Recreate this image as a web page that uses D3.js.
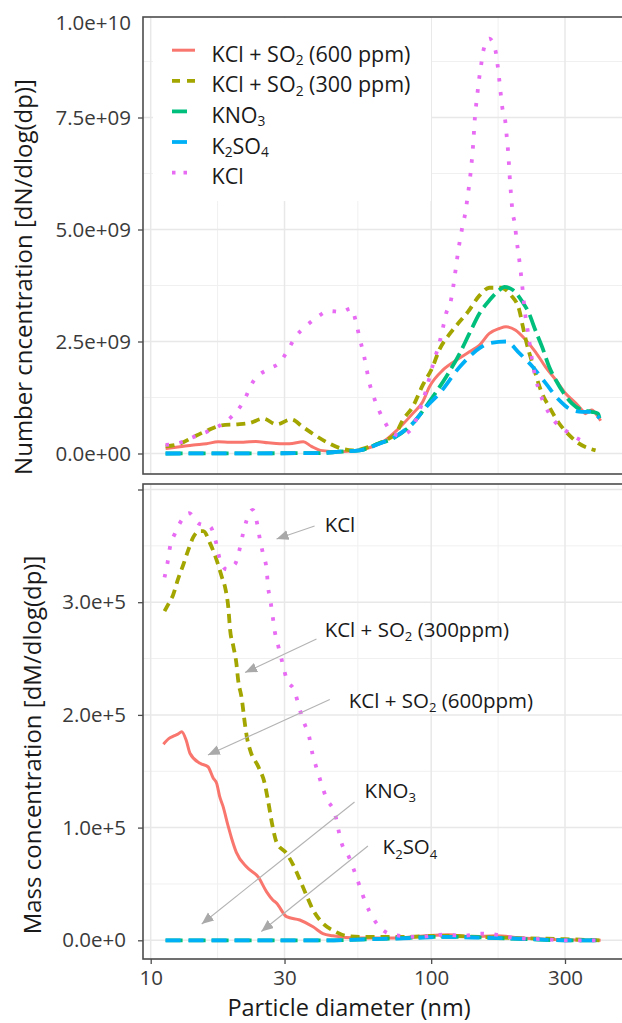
<!DOCTYPE html>
<html><head><meta charset="utf-8">
<script src="https://cdn.jsdelivr.net/npm/d3@7"></script>
<style>
body{margin:0;background:#fff}
svg{display:block}
text{font-family:"Open Sans",sans-serif}
</style>
</head><body>
<svg id="chart" width="622" height="1023"></svg>
<script>
// ---------------- DATA ----------------
const seriesNames = ["KCl + SO_2 (600 ppm)", "KCl + SO_2 (300 ppm)", "KNO_3", "K_2SO_4", "KCl"];
const seriesColors = ["#F8766D", "#A3A500", "#00BF7D", "#00B0F6", "#E76BF3"];

// Number concentration [dN/dlog(dp)] vs particle diameter (nm)
const numSO2_600 = [[11.3,0.11e9],[12.7,0.15e9],[14.2,0.19e9],[15.8,0.22e9],[17.4,0.26e9],[19.2,0.25e9],[21.4,0.25e9],[23.7,0.27e9],[26.2,0.24e9],[28.9,0.22e9],[31.2,0.22e9],[35.0,0.26e9],[37.4,0.16e9],[40.3,0.07e9],[47.1,0.04e9],[54.1,0.07e9],[61.5,0.15e9],[68.8,0.30e9],[74.9,0.50e9],[85.9,0.89e9],[93.2,1.15e9],[98.6,1.49e9],[110.0,1.86e9],[122.7,2.08e9],[136.9,2.27e9],[148.8,2.42e9],[161.3,2.68e9],[175.0,2.79e9],[184.9,2.83e9],[200.1,2.75e9],[217.6,2.53e9],[235.3,2.27e9],[255.9,1.93e9],[278.1,1.64e9],[301.6,1.34e9],[328.2,1.12e9],[345.0,0.97e9],[354.0,0.89e9],[373.4,0.97e9],[393.5,0.82e9],[402.1,0.73e9]];
const numSO2_300 = [[11.3,0.16e9],[12.7,0.22e9],[14.2,0.37e9],[16.0,0.52e9],[17.9,0.63e9],[20.2,0.65e9],[22.5,0.68e9],[25.2,0.78e9],[28.1,0.65e9],[31.7,0.76e9],[34.9,0.59e9],[38.5,0.41e9],[42.8,0.24e9],[47.8,0.11e9],[52.6,0.07e9],[60.2,0.15e9],[68.9,0.30e9],[74.9,0.45e9],[79.1,0.74e9],[85.9,1.04e9],[93.2,1.52e9],[101.2,1.93e9],[106.8,2.31e9],[115.5,2.64e9],[124.7,2.90e9],[135.2,3.16e9],[148.8,3.53e9],[161.3,3.70e9],[177.5,3.70e9],[192.7,3.53e9],[206.2,3.20e9],[211.8,2.86e9],[217.6,2.53e9],[229.6,2.01e9],[248.6,1.34e9],[263.6,1.04e9],[286.1,0.67e9],[310.6,0.41e9],[337.0,0.22e9],[385.6,0.07e9]];
const numKNO3 = [[11.3,0],[40.0,0.01e9],[47.1,0.04e9],[55.6,0.07e9],[64.9,0.22e9],[72.8,0.33e9],[85.9,0.67e9],[101.2,1.26e9],[113.0,1.71e9],[126.3,2.23e9],[136.9,2.68e9],[148.8,3.13e9],[161.3,3.42e9],[175.0,3.65e9],[182.1,3.72e9],[195.6,3.65e9],[211.8,3.38e9],[223.2,3.13e9],[235.3,2.75e9],[248.6,2.38e9],[263.6,1.93e9],[278.1,1.64e9],[297.3,1.34e9],[317.4,1.12e9],[345.0,0.97e9],[373.4,0.93e9],[393.5,0.89e9],[398.5,0.78e9]];
const numK2SO4 = [[11.3,0],[40.0,0.01e9],[47.1,0.04e9],[55.6,0.07e9],[64.9,0.21e9],[74.9,0.39e9],[85.9,0.67e9],[96.0,1.04e9],[107.0,1.34e9],[126.3,1.93e9],[148.8,2.35e9],[161.3,2.46e9],[184.9,2.50e9],[206.2,2.24e9],[229.6,1.94e9],[255.9,1.57e9],[286.1,1.19e9],[317.4,0.97e9],[345.0,0.93e9],[366.0,0.93e9],[398.5,0.79e9]];
const numKCl = [[11.3,0.19e9],[12.7,0.24e9],[14.2,0.37e9],[15.8,0.48e9],[17.6,0.62e9],[19.4,0.82e9],[21.1,1.09e9],[23.5,1.66e9],[26.2,1.88e9],[28.9,2.04e9],[30.9,2.32e9],[32.8,2.60e9],[35.6,2.83e9],[39.0,3.03e9],[43.1,3.18e9],[47.8,3.16e9],[51.9,3.24e9],[54.1,2.90e9],[55.6,2.57e9],[57.4,2.23e9],[58.7,1.93e9],[60.0,1.62e9],[62.3,1.28e9],[65.1,0.97e9],[68.8,0.67e9],[73.0,0.45e9],[77.1,0.40e9],[83.7,0.50e9],[93.1,1.15e9],[102.7,2.10e9],[107.0,2.47e9],[110.0,2.79e9],[113.1,3.13e9],[117.8,3.44e9],[120.1,3.76e9],[124.0,4.39e9],[126.1,4.69e9],[129.2,5.06e9],[132.5,5.39e9],[134.6,5.69e9],[136.9,6.04e9],[138.8,6.37e9],[140.3,6.70e9],[141.5,6.99e9],[142.6,7.35e9],[144.0,7.66e9],[146.2,8.04e9],[148.0,8.33e9],[150.7,8.67e9],[153.6,9.00e9],[161.3,9.26e9],[169.4,9.00e9],[172.2,8.71e9],[175.0,8.33e9],[179.4,7.71e9],[183.9,7.40e9],[186.0,7.07e9],[187.9,6.77e9],[191.1,6.06e9],[192.9,5.73e9],[194.7,5.43e9],[199.0,5.10e9],[201.5,4.77e9],[204.5,4.49e9],[207.5,4.17e9],[210.8,3.79e9],[216.0,3.14e9],[220.8,2.75e9],[231.2,1.93e9],[249.6,1.19e9],[263.6,0.89e9],[310.6,0.45e9],[366.0,0.22e9]];

// Mass concentration [dM/dlog(dp)] vs particle diameter (nm)
const massSO2_600 = [[11.1,1.74e5],[11.6,1.79e5],[12.0,1.81e5],[12.5,1.83e5],[12.9,1.85e5],[13.4,1.77e5],[13.8,1.66e5],[15.0,1.57e5],[16.0,1.54e5],[16.7,1.44e5],[17.2,1.39e5],[17.6,1.28e5],[18.1,1.19e5],[18.9,1.01e5],[19.4,0.91e5],[20.2,0.78e5],[22.0,0.65e5],[24.2,0.56e5],[25.9,0.43e5],[27.2,0.36e5],[28.1,0.33e5],[30.5,0.21e5],[34.0,0.18e5],[37.9,0.12e5],[41.1,0.06e5],[44.6,0.04e5],[55.0,0.02e5],[75.0,0.02e5],[95.0,0.04e5],[115.0,0.05e5],[140.0,0.03e5],[170.0,0.04e5],[210.0,0.02e5],[260.0,0.01e5],[402.0,0]];
const massSO2_300 = [[11.2,2.92e5],[11.6,2.99e5],[12.0,3.06e5],[12.5,3.20e5],[13.1,3.34e5],[13.6,3.46e5],[14.2,3.58e5],[14.9,3.63e5],[15.4,3.63e5],[16.3,3.52e5],[17.2,3.37e5],[17.9,3.23e5],[18.5,3.11e5],[18.9,2.96e5],[19.2,2.75e5],[19.7,2.61e5],[20.2,2.46e5],[20.5,2.31e5],[21.1,2.15e5],[21.7,1.91e5],[22.0,1.81e5],[22.6,1.69e5],[24.2,1.54e5],[25.5,1.39e5],[26.2,1.24e5],[27.2,1.01e5],[28.1,0.87e5],[30.5,0.77e5],[32.2,0.67e5],[34.0,0.54e5],[35.9,0.40e5],[37.9,0.27e5],[41.1,0.15e5],[45.3,0.08e5],[49.8,0.04e5],[57.0,0.03e5],[80.0,0.03e5],[110.0,0.04e5],[150.0,0.03e5],[200.0,0.02e5],[300.0,0.01e5],[400.0,0]];
const massKNO3 = [[11.3,0],[45.0,0],[60.0,0.01e5],[80.0,0.02e5],[100.0,0.03e5],[130.0,0.03e5],[170.0,0.02e5],[220.0,0.01e5],[300.0,0],[402.0,0]];
const massK2SO4 = [[11.3,0],[45.0,0],[60.0,0.01e5],[85.0,0.02e5],[110.0,0.03e5],[140.0,0.025e5],[180.0,0.02e5],[230.0,0.01e5],[300.0,0],[402.0,0]];
const massKCl = [[11.2,3.22e5],[11.5,3.36e5],[11.7,3.48e5],[12.2,3.61e5],[13.0,3.74e5],[13.7,3.79e5],[14.8,3.70e5],[16.3,3.67e5],[17.1,3.53e5],[17.6,3.39e5],[18.7,3.29e5],[20.0,3.34e5],[20.7,3.46e5],[21.3,3.60e5],[22.0,3.73e5],[23.1,3.82e5],[24.0,3.69e5],[24.5,3.56e5],[25.2,3.42e5],[25.9,3.29e5],[26.2,3.14e5],[26.7,3.02e5],[27.2,2.88e5],[27.7,2.74e5],[28.5,2.61e5],[29.5,2.46e5],[30.5,2.32e5],[32.6,2.21e5],[33.8,2.07e5],[35.1,1.94e5],[36.7,1.81e5],[37.7,1.66e5],[39.0,1.53e5],[40.6,1.39e5],[42.3,1.26e5],[45.3,1.13e5],[47.8,0.87e5],[50.9,0.74e5],[53.3,0.61e5],[55.6,0.48e5],[58.4,0.33e5],[62.0,0.20e5],[67.3,0.09e5],[73.0,0.05e5],[90.0,0.03e5],[110.0,0.05e5],[130.0,0.04e5],[150.0,0.06e5],[170.0,0.05e5],[200.0,0.02e5],[250.0,0.01e5],[300.0,0],[400.0,0]];

// Axis ticks and labels
const xTicks = [10, 30, 100, 300];
const xTickLabels = ["10", "30", "100", "300"];
const numTicks = [0, 2.5e9, 5e9, 7.5e9];
const numTickLabels = ["0.0e+00", "2.5e+09", "5.0e+09", "7.5e+09"];
const numTopLabel = "1.0e+10";
const massTicks = [0, 1e5, 2e5, 3e5, 4e5];
const massTickLabels = ["0.0e+0", "1.0e+5", "2.0e+5", "3.0e+5", ""];
const numTitle = "Number cncentration [dN/dlog(dp)]";
const massTitle = "Mass concentration [dM/dlog(dp)]";
const xTitle = "Particle diameter (nm)";

// Annotations on the mass panel (data coordinates: nm, dM/dlog(dp))
const annoLabels = ["KCl", "KCl + SO_2 (300ppm)", "KCl + SO_2 (600ppm)", "KNO_3", "K_2SO_4"];
const annoText = [[41.7,3.685e5],[41.7,2.76e5],[50.8,2.13e5],[57.9,1.33e5],[67.1,0.828e5]];
const annoFrom = [[38.4,3.676e5],[39.0,2.673e5],[43.5,2.137e5],[53.3,1.227e5],[59.5,0.837e5]];
const annoTo   = [[28.1,3.561e5],[21.7,2.376e5],[16.0,1.644e5],[15.2,0.145e5],[24.8,0.078e5]];

// ---------------- LAYOUT / STYLE ----------------
const W = 622, H = 1023;
const panelLeft = 143, panelRight = 650;
const topP = {y0: 17, y1: 474};
const botP = {y0: 484, y1: 959};
const dashes = [null, "9,6", "17,6", "15,8", "3.5,10.5"];
const widths = [3, 3.8, 3.8, 3.8, 3.8];

const svg = d3.select("#chart");
svg.append("rect").attr("width", W).attr("height", H).attr("fill", "#fff");

const x = d3.scaleLog().domain([10, 300]).range([150.7, 565]);
const yNum = d3.scaleLinear().domain([0, 7.5e9]).range([453.5, 117.5]);
const yMass = d3.scaleLinear().domain([0, 3e5]).range([940.3, 602.2]);

const defs = svg.append("defs");
defs.append("clipPath").attr("id", "clipTop").append("rect")
  .attr("x", panelLeft).attr("y", topP.y0).attr("width", panelRight - panelLeft).attr("height", topP.y1 - topP.y0);
defs.append("clipPath").attr("id", "clipBot").append("rect")
  .attr("x", panelLeft).attr("y", botP.y0).attr("width", panelRight - panelLeft).attr("height", botP.y1 - botP.y0);
defs.append("marker").attr("id", "arrow").attr("markerUnits", "userSpaceOnUse")
  .attr("markerWidth", 14).attr("markerHeight", 12).attr("refX", 12).attr("refY", 5)
  .attr("orient", "auto")
  .append("path").attr("d", "M0,0 L12,5 L0,10 Z").attr("fill", "#a9a9a9");

function geoMid(a, b) { return Math.sqrt(a * b); }
const xMinor = [];
for (let i = 0; i < xTicks.length - 1; i++) xMinor.push(geoMid(xTicks[i], xTicks[i + 1]));

function drawGrid(g, y, majors, minors, p) {
  const gg = g.append("g").attr("clip-path", p === topP ? "url(#clipTop)" : "url(#clipBot)");
  gg.selectAll(".hmin").data(minors).enter().append("line")
    .attr("x1", panelLeft).attr("x2", panelRight).attr("y1", d => y(d)).attr("y2", d => y(d))
    .attr("stroke", "#f0f0f0").attr("stroke-width", 1);
  gg.selectAll(".vmin").data(xMinor).enter().append("line")
    .attr("y1", p.y0).attr("y2", p.y1).attr("x1", d => x(d)).attr("x2", d => x(d))
    .attr("stroke", "#f0f0f0").attr("stroke-width", 1);
  gg.selectAll(".hmaj").data(majors).enter().append("line")
    .attr("x1", panelLeft).attr("x2", panelRight).attr("y1", d => y(d)).attr("y2", d => y(d))
    .attr("stroke", "#e8e8e8").attr("stroke-width", 1.5);
  gg.selectAll(".vmaj").data(xTicks).enter().append("line")
    .attr("y1", p.y0).attr("y2", p.y1).attr("x1", d => x(d)).attr("x2", d => x(d))
    .attr("stroke", "#e8e8e8").attr("stroke-width", 1.5);
}

const gTop = svg.append("g");
const gBot = svg.append("g");

drawGrid(gTop, yNum, [0, 2.5e9, 5e9, 7.5e9], [1.25e9, 3.75e9, 6.25e9, 8.75e9], topP);
drawGrid(gBot, yMass, [0, 1e5, 2e5, 3e5, 4e5], [0.5e5, 1.5e5, 2.5e5, 3.5e5], botP);

// legend background (covers grid)
gTop.append("rect").attr("x", 153).attr("y", topP.y0 + 1).attr("width", 278).attr("height", 183).attr("fill", "#fff");

function drawSeries(g, y, sets, clip) {
  const line = d3.line().x(d => x(d[0])).y(d => y(d[1])).curve(d3.curveMonotoneX);
  const gg = g.append("g").attr("clip-path", clip);
  sets.forEach((s, i) => {
    gg.append("path").datum(s).attr("d", line).attr("fill", "none")
      .attr("stroke", seriesColors[i]).attr("stroke-width", widths[i])
      .attr("stroke-dasharray", dashes[i]).attr("stroke-linejoin", "round");
  });
}
drawSeries(gTop, yNum, [numSO2_600, numSO2_300, numKNO3, numK2SO4, numKCl], "url(#clipTop)");
drawSeries(gBot, yMass, [massSO2_600, massSO2_300, massKNO3, massK2SO4, massKCl], "url(#clipBot)");

// panel frames
[topP, botP].forEach(p => {
  svg.append("rect").attr("x", panelLeft).attr("y", p.y0).attr("width", panelRight - panelLeft)
    .attr("height", p.y1 - p.y0).attr("fill", "none").attr("stroke", "#4d4d4d").attr("stroke-width", 1.6);
});

// text with subscripts, "_d" marks a subscript digit
function richText(sel, label, size, shiftK) {
  const parts = label.split(/_(\d)/);
  const shift = size * shiftK;
  parts.forEach((p, i) => {
    if (p === "") return;
    const sub = i % 2 === 1;
    const t = sel.append("tspan").text(p);
    if (sub) t.attr("font-size", size * 0.64).attr("dy", shift);
    else if (i > 0) t.attr("dy", -shift);
  });
}

// axes
const axisColor = "#3a3a3a";
const yAxTop = d3.axisLeft(yNum).tickValues(numTicks).tickSize(5).tickPadding(7)
  .tickFormat((d, i) => numTickLabels[i]);
const gyt = svg.append("g").attr("transform", `translate(${panelLeft},0)`).call(yAxTop);
const yAxBot = d3.axisLeft(yMass).tickValues(massTicks).tickSize(5).tickPadding(12)
  .tickFormat((d, i) => massTickLabels[i]);
const gyb = svg.append("g").attr("transform", `translate(${panelLeft},0)`).call(yAxBot);
const xAx = d3.axisBottom(x).tickValues(xTicks).tickSize(5).tickPadding(6)
  .tickFormat((d, i) => xTickLabels[i]);
const gx = svg.append("g").attr("transform", `translate(0,${botP.y1})`).call(xAx);
[gyt, gyb, gx].forEach(g => {
  g.select(".domain").remove();
  g.selectAll(".tick line").attr("stroke", "#4d4d4d").attr("stroke-width", 1.3);
  g.selectAll(".tick text").attr("fill", axisColor).attr("font-size", 20.5)
    .attr("font-family", "'Open Sans', sans-serif");
});

svg.append("text").attr("x", 131).attr("y", 30).attr("text-anchor", "end")
  .attr("font-size", 20.5).attr("fill", axisColor).text(numTopLabel);

// axis titles
svg.append("text").attr("transform", "translate(32,277) rotate(-90)").attr("text-anchor", "middle")
  .attr("font-size", 24).attr("fill", "#1a1a1a").text(numTitle);
svg.append("text").attr("transform", "translate(41,745) rotate(-90)").attr("text-anchor", "middle")
  .attr("font-size", 24).attr("fill", "#1a1a1a").text(massTitle);
svg.append("text").attr("x", 349).attr("y", 1016).attr("text-anchor", "middle")
  .attr("font-size", 23.5).attr("fill", "#1a1a1a").text(xTitle);

// legend
const legend = svg.append("g");
seriesNames.forEach((name, i) => {
  const base = 61.7 + i * 30.6;
  const ky = base - 11.5;
  legend.append("line").attr("x1", 172).attr("x2", 195).attr("y1", ky).attr("y2", ky)
    .attr("stroke", seriesColors[i]).attr("stroke-width", widths[i])
    .attr("stroke-dasharray", i === 1 ? "8,7" : (i === 4 ? "3.5,8" : (i === 2 || i === 3 ? "15,10" : null)));
  const t = legend.append("text").attr("x", 211.5).attr("y", base).attr("font-size", 21.5).attr("fill", "#1a1a1a");
  richText(t, name, 21.5, 0.16);
});

// annotations
const anno = svg.append("g");
annoLabels.forEach((lab, i) => {
  anno.append("line")
    .attr("x1", x(annoFrom[i][0])).attr("y1", yMass(annoFrom[i][1]))
    .attr("x2", x(annoTo[i][0])).attr("y2", yMass(annoTo[i][1]))
    .attr("stroke", "#b3b3b3").attr("stroke-width", 1.1).attr("marker-end", "url(#arrow)");
  const t = anno.append("text").attr("x", x(annoText[i][0])).attr("y", yMass(annoText[i][1]) + 7.3)
    .attr("font-size", 20.5).attr("fill", "#1a1a1a");
  richText(t, lab, 20.5, 0.22);
});
</script>
</body></html>
